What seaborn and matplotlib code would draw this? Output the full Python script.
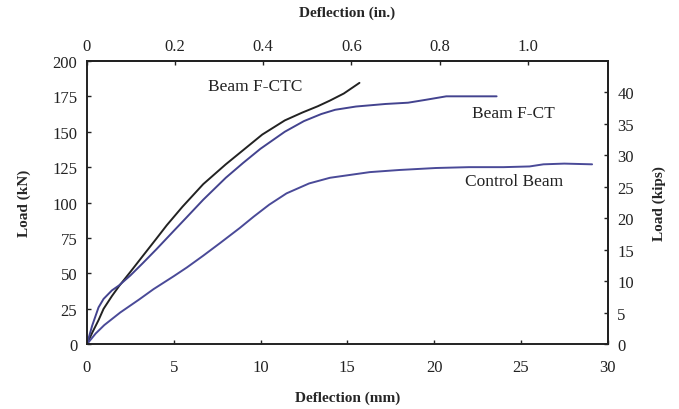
import numpy as np
import pandas as pd
import matplotlib
matplotlib.use("Agg")
import matplotlib.pyplot as plt
import seaborn as sns

# Data (deflection in mm, load in kN)
ctc_defl = [0, 0.3, 0.67, 0.96, 1.44, 1.85, 2.5, 3.2, 4.0, 4.6, 5.5, 6.7, 8.0, 9.0, 10.1, 11.4, 12.4, 13.3, 14.0, 14.8, 15.7]
ctc_load = [0, 8, 17, 25, 34, 41, 51, 62, 74.5, 84, 97, 113, 127, 137, 148, 158, 163.5, 168, 172, 177, 184.5]

ct_defl = [0, 0.3, 0.67, 0.96, 1.44, 1.85, 2.5, 3.2, 4.0, 5.08, 5.7, 6.7, 8.0, 9.0, 10.0, 11.4, 12.5, 13.5, 14.3, 15.5, 17.2, 18.5, 19.5, 20.7, 22.0, 23.6]
ct_load = [0, 13, 26, 32, 38, 41.5, 48.5, 57, 67, 81, 89, 102, 117.5, 128, 138, 150, 157.5, 162.5, 165.5, 167.8, 169.6, 170.5, 172.5, 175, 175, 175]

cb_defl = [0, 0.5, 1.0, 1.92, 3.0, 3.84, 5.0, 5.76, 6.7, 7.68, 8.8, 9.6, 10.5, 11.5, 12.8, 14.0, 16.3, 18.0, 20.1, 22.0, 24.0, 25.5, 26.3, 27.5, 29.1]
cb_load = [0, 7.5, 13.5, 22.4, 31.5, 38.9, 48, 54.2, 62.5, 71.5, 82, 90, 98.5, 106.5, 113.5, 117.5, 121.5, 123, 124.4, 125, 125, 125.5, 127, 127.5, 127]

series_names = ["Beam F-CTC", "Beam F-CT", "Control Beam"]
series_colors = ["#222222", "#43438f", "#4a4a98"]

left_ticks = [0, 25, 50, 75, 100, 125, 150, 175, 200]
bottom_ticks = [0, 5, 10, 15, 20, 25, 30]
top_ticks = [0, 0.2, 0.4, 0.6, 0.8, 1.0]
top_labels = ["0", "0.2", "0.4", "0.6", "0.8", "1.0"]
right_ticks = [0, 5, 10, 15, 20, 25, 30, 35, 40]

frames = []
for name, d, l in zip(series_names, [ctc_defl, ct_defl, cb_defl], [ctc_load, ct_load, cb_load]):
    frames.append(pd.DataFrame({"defl": d, "load": l, "beam": name}))
df = pd.concat(frames, ignore_index=True)

sns.set_theme(style="ticks")
plt.rcParams["font.family"] = ["Liberation Serif", "DejaVu Serif"]
plt.rcParams["axes.linewidth"] = 1.4

fig = plt.figure(figsize=(6.79, 4.10), dpi=100)
ax = fig.add_axes([0.128, 0.158, 0.767, 0.691])

sns.lineplot(data=df, x="defl", y="load", hue="beam", hue_order=series_names,
             palette=series_colors, sort=False, estimator=None, linewidth=1.4,
             legend=False, ax=ax)

TICK_FS = 12
ax.set_xlim(0, 30)
ax.set_ylim(0, 200)
ax.set_xticks(bottom_ticks)
ax.set_yticks(left_ticks)
ax.tick_params(axis="x", direction="in", length=3, width=1, labelsize=TICK_FS, colors="#222222", pad=11)
ax.tick_params(axis="y", direction="in", length=3, width=1, labelsize=TICK_FS, colors="#222222", pad=7)
ax.set_xlabel("Deflection (mm)", fontsize=11, fontweight="bold", labelpad=11)
ax.set_ylabel("Load (kN)", fontsize=11, fontweight="bold", labelpad=15)
for s in ax.spines.values():
    s.set_color("#222222")

KIPS = 4.448
INCH = 25.4
secx = ax.secondary_xaxis("top", functions=(lambda x: x / INCH, lambda x: x * INCH))
secx.set_xticks(top_ticks)
secx.set_xticklabels(top_labels)
secx.tick_params(direction="in", length=3, width=1, labelsize=TICK_FS, colors="#222222", pad=5)
secx.set_xlabel("Deflection (in.)", fontsize=11, fontweight="bold", labelpad=16)

secy = ax.secondary_yaxis("right", functions=(lambda y: y / KIPS, lambda y: y * KIPS))
secy.set_yticks(right_ticks)
secy.tick_params(direction="in", length=3, width=1, labelsize=TICK_FS, colors="#222222", pad=7)
secy.set_ylabel("Load (kips)", fontsize=11, fontweight="bold", labelpad=13)

ax.text(7.0, 182, "Beam F-CTC", fontsize=12.5, color="#222222", va="center")
ax.text(22.2, 163, "Beam F-CT", fontsize=12.5, color="#222222", va="center")
ax.text(21.8, 115, "Control Beam", fontsize=12.5, color="#222222", va="center")

fig.savefig("out.png", dpi=100)
